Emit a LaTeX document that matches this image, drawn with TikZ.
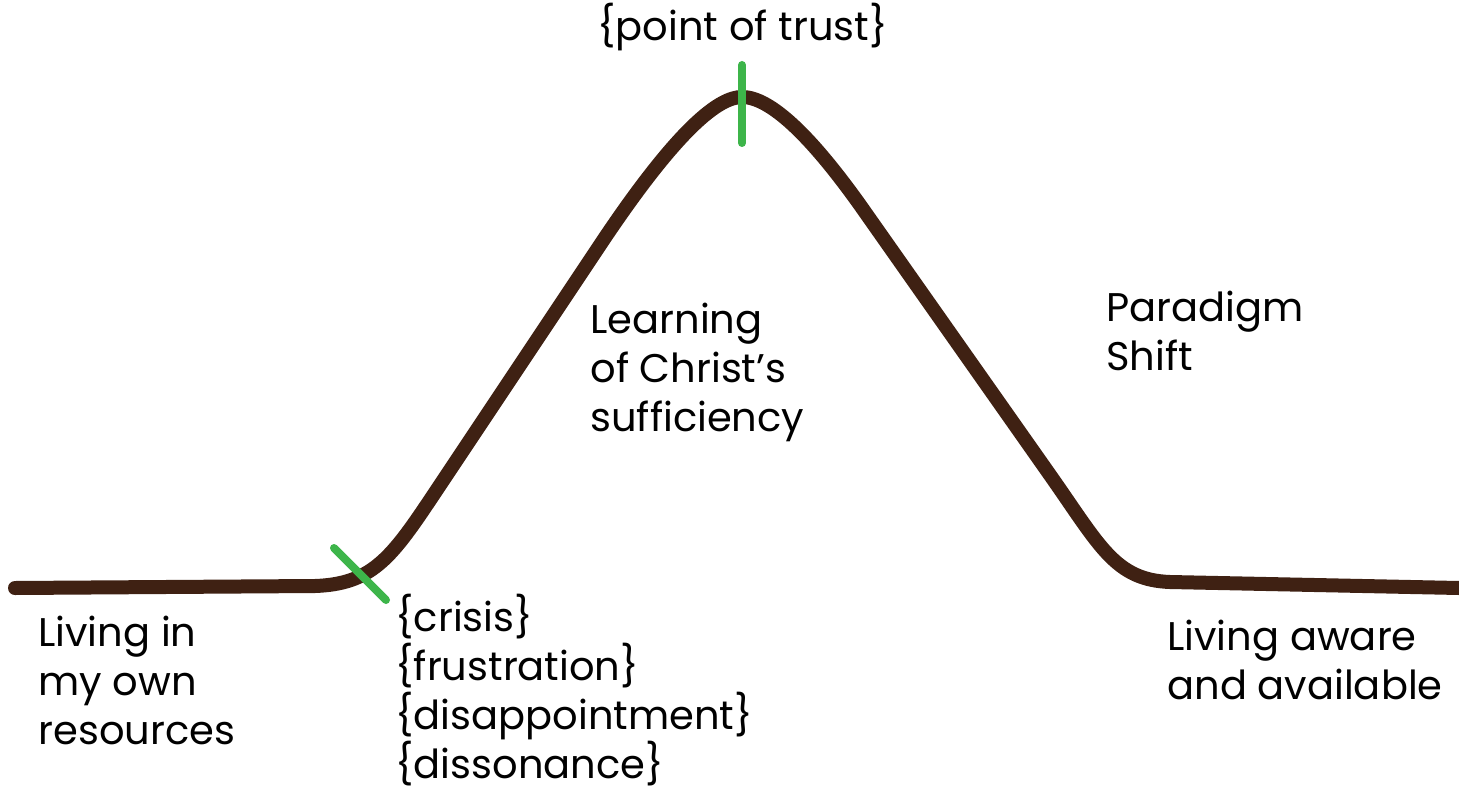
\documentclass[tikz,border=0pt]{standalone}
\usepackage{fontspec}
\setmainfont{Poppins}
\definecolor{curvebrown}{HTML}{3F2113}
\definecolor{tickgreen}{HTML}{3DB54A}
\begin{document}
\begin{tikzpicture}[x=0.5pt,y=-0.5pt,
  lbl/.style={anchor=base west,inner sep=0pt,align=left,font=\fontsize{20}{24.5}\selectfont,text=black},
  curve/.style={draw=curvebrown,line width=7pt,line cap=round,line join=round},
  tick/.style={draw=tickgreen,line width=4pt,line cap=round}]
\useasboundingbox[fill=white] (0,0) rectangle (1459,791);
\coordinate (s) at (15,588);
\coordinate (a) at (315,586);
\coordinate (b) at (430,500);
\coordinate (c) at (600,245);
\coordinate (p) at (742,97);
\coordinate (d) at (860,205);
\coordinate (e) at (1050,475);
\coordinate (f) at (1170,582);
\coordinate (t) at (1459,588);
\draw[curve] (s) -- (a) .. controls (370,584) and (390,560) .. (b) -- (c)
  .. controls (680,125) and (720,97) .. (p) .. controls (770,97) and (810,135) .. (d)
  -- (e) .. controls (1100,546) and (1115,580) .. (f) -- (t);
\coordinate (g1) at (742,65);
\coordinate (g2) at (742,143);
\coordinate (h1) at (334,548);
\coordinate (h2) at (386,600);
\draw[tick] (g1) -- (g2);
\draw[tick] (h1) -- (h2);
\node[lbl] (trust) at (597,41) {\{point of trust\}};
\node[lbl] (learn) at (590,431) {Learning\\of Christ’s\\sufficiency};
\node[lbl] (para) at (1106,370) {Paradigm\\Shift};
\node[lbl] (own) at (38,744) {Living in\\my own\\resources};
\node[lbl] (crisis) at (395,778) {\{crisis\}\\\{frustration\}\\\{disappointment\}\\\{dissonance\}};
\node[lbl] (aware) at (1167,699) {Living aware\\and available};
\end{tikzpicture}
\end{document}
